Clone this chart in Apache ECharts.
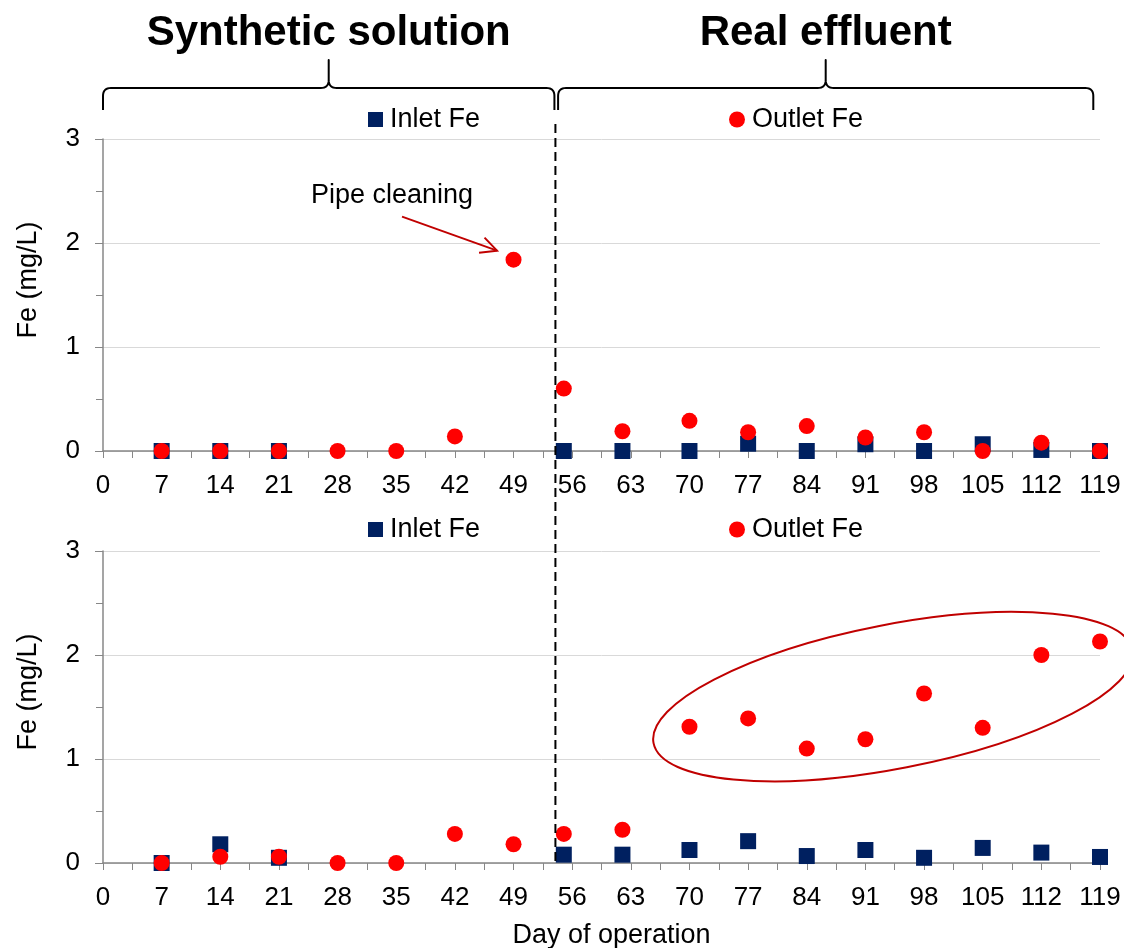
<!DOCTYPE html>
<html>
<head>
<meta charset="utf-8">
<title>Fe concentration</title>
<script src="https://cdn.jsdelivr.net/npm/echarts@6/dist/echarts.min.js"></script>
<style>
  html, body { margin: 0; padding: 0; background: #ffffff; }
  #chart { width: 1124px; height: 948px; }
</style>
</head>
<body>
<div id="chart"></div>
<script>
// Sampling days (day of operation)
const inletDays  = [7, 14, 21, 55, 62, 70, 77, 84, 91, 98, 105, 112, 119];
const outletDays = [7, 14, 21, 28, 35, 42, 49, 55, 62, 70, 77, 84, 91, 98, 105, 112, 119];

// Upper panel, Fe (mg/L)
const upperInletFe  = [0, 0, 0, 0, 0, 0, 0.07, 0, 0.065, 0, 0.065, 0.01, 0];
const upperOutletFe = [0, 0, 0, 0, 0, 0.14, 1.84, 0.60, 0.19, 0.29, 0.18, 0.24, 0.13, 0.18, 0, 0.08, 0];

// Lower panel, Fe (mg/L)
const lowerInletFe  = [0, 0.18, 0.05, 0.08, 0.08, 0.125, 0.21, 0.067, 0.125, 0.05, 0.145, 0.10, 0.058];
const lowerOutletFe = [0, 0.06, 0.06, 0, 0, 0.28, 0.18, 0.28, 0.32, 1.31, 1.39, 1.10, 1.19, 1.63, 1.30, 2.00, 2.13];

// Axis ranges and tick steps
const dayRange = [0, 119];
const dayStep = 7;
const feRange = [0, 3];
const feStep = 1;

// Feed change-over and phase labels
const switchDay = 54;
const phaseNames = ['Synthetic solution', 'Real effluent'];
const phaseSpans = [[0, 54], [54.2, 118.2]];
const seriesNames = ['Inlet Fe', 'Outlet Fe'];
const pipeNote = 'Pipe cleaning';

const FONT = '"Liberation Sans", Arial, Helvetica, sans-serif';
const NAVY = '#002060';
const RED = '#FF0000';
const DARKRED = '#C00000';
const AXIS_GREY = '#878787';

const pairs = (xs, ys) => xs.map((x, i) => [x, ys[i]]);

function xAxisCfg(gridIndex, withName) {
  const cfg = {
    type: 'value', gridIndex,
    min: dayRange[0], max: dayRange[1], interval: dayStep,
    axisLine: { show: true, onZero: false, lineStyle: { color: AXIS_GREY, width: 1.5 } },
    axisTick: { show: true, length: 7, lineStyle: { color: AXIS_GREY, width: 1 } },
    minorTick: { show: true, splitNumber: 2, length: 7, lineStyle: { color: AXIS_GREY, width: 1 } },
    splitLine: { show: false },
    minorSplitLine: { show: false },
    axisLabel: { margin: 22, fontSize: 26, color: '#000', fontFamily: FONT }
  };
  if (withName) {
    Object.assign(cfg, {
      name: 'Day of operation', nameLocation: 'middle', nameGap: 59,
      nameTextStyle: { fontSize: 27, color: '#000', fontFamily: FONT, padding: [0, 0, 0, 20] }
    });
  }
  return cfg;
}

function yAxisCfg(gridIndex) {
  return {
    type: 'value', gridIndex,
    min: feRange[0], max: feRange[1], interval: feStep,
    name: 'Fe (mg/L)', nameLocation: 'middle', nameGap: 61,
    nameTextStyle: { fontSize: 27, color: '#000', fontFamily: FONT, padding: [0, 0, 0, 30] },
    axisLine: { show: true, lineStyle: { color: AXIS_GREY, width: 1.5 } },
    axisTick: { show: true, length: 8, lineStyle: { color: AXIS_GREY, width: 1 } },
    minorTick: { show: true, splitNumber: 2, length: 7, lineStyle: { color: AXIS_GREY, width: 1 } },
    splitLine: { show: true, lineStyle: { color: '#D9D9D9', width: 1 } },
    minorSplitLine: { show: false },
    axisLabel: { margin: 23, fontSize: 26, color: '#000', fontFamily: FONT }
  };
}

function legendCfg(name, icon, left, top, size) {
  return {
    left, top, padding: 0, selectedMode: false,
    itemWidth: size, itemHeight: size, itemGap: 0,
    data: [{ name, icon }],
    textStyle: { fontSize: 27, color: '#000', fontFamily: FONT, padding: [0, 0, 0, 2] }
  };
}

function scatter(name, gridIndex, data, symbol, color, z) {
  return {
    name, type: 'scatter', xAxisIndex: gridIndex, yAxisIndex: gridIndex,
    data, symbol, symbolSize: 16, clip: false, z,
    itemStyle: { color, opacity: 1 },
    emphasis: { disabled: true }
  };
}

const chart = echarts.init(document.getElementById('chart'), null, { renderer: 'canvas' });

chart.setOption({
  animation: false,
  backgroundColor: '#ffffff',
  textStyle: { fontFamily: FONT },
  grid: [
    { left: 103, right: 24, top: 139, height: 312, outerBoundsMode: 'none' },
    { left: 103, right: 24, top: 551, height: 312, outerBoundsMode: 'none' }
  ],
  xAxis: [xAxisCfg(0, false), xAxisCfg(1, true)],
  yAxis: [yAxisCfg(0), yAxisCfg(1)],
  legend: [
    legendCfg(seriesNames[0], 'rect', 368, 106, 15),
    legendCfg(seriesNames[1], 'circle', 729, 106, 16),
    legendCfg(seriesNames[0], 'rect', 368, 516, 15),
    legendCfg(seriesNames[1], 'circle', 729, 516, 16)
  ],
  series: [
    scatter(seriesNames[0], 0, pairs(inletDays, upperInletFe), 'rect', NAVY, 3),
    scatter(seriesNames[1], 0, pairs(outletDays, upperOutletFe), 'circle', RED, 4),
    scatter(seriesNames[0], 1, pairs(inletDays, lowerInletFe), 'rect', NAVY, 3),
    scatter(seriesNames[1], 1, pairs(outletDays, lowerOutletFe), 'circle', RED, 4)
  ]
});

// ---- annotations placed from axis coordinates ----
const toPx = (grid, x, y) => chart.convertToPixel({ gridIndex: grid }, [x, y]);

// Curly brace opening downward with a centre cusp
function bracePoints(x0, x1, yLine, yEnd, yTip, r) {
  const xm = (x0 + x1) / 2;
  const pts = [];
  const quad = (p0, c, p1, n) => {
    for (let i = 1; i <= n; i++) {
      const t = i / n, u = 1 - t;
      pts.push([u * u * p0[0] + 2 * u * t * c[0] + t * t * p1[0],
                u * u * p0[1] + 2 * u * t * c[1] + t * t * p1[1]]);
    }
  };
  pts.push([x0, yEnd]);
  pts.push([x0, yLine + r]);
  quad([x0, yLine + r], [x0, yLine], [x0 + r, yLine], 8);
  pts.push([xm - r, yLine]);
  quad([xm - r, yLine], [xm, yLine], [xm, yLine - r], 8);
  pts.push([xm, yTip]);
  pts.push([xm, yLine - r]);
  quad([xm, yLine - r], [xm, yLine], [xm + r, yLine], 8);
  pts.push([x1 - r, yLine]);
  quad([x1 - r, yLine], [x1, yLine], [x1, yLine + r], 8);
  pts.push([x1, yEnd]);
  return { pts, xm };
}

const graphics = [];

phaseSpans.forEach((span, i) => {
  const xa = toPx(0, span[0], 0)[0];
  const xb = toPx(0, span[1], 0)[0];
  const b = bracePoints(xa + (i === 0 ? 0 : 1), xb - (i === 0 ? 1 : 0), 88, 110, 60, 8);
  graphics.push({
    type: 'polyline', silent: true, z: 10,
    shape: { points: b.pts },
    style: { stroke: '#000', lineWidth: 2, fill: null, lineJoin: 'round' }
  });
  graphics.push({
    type: 'text', silent: true, z: 10,
    style: {
      text: phaseNames[i], x: b.xm, y: 33, align: 'center', verticalAlign: 'middle',
      font: 'bold 42px ' + FONT, fill: '#000'
    }
  });
});

// Change-over line across both panels
const topSwitch = toPx(0, switchDay, feRange[1]);
const botSwitch = toPx(1, switchDay, feRange[0]);
graphics.push({
  type: 'line', silent: true, z: 9,
  shape: { x1: topSwitch[0], y1: 124, x2: botSwitch[0], y2: botSwitch[1] },
  style: { stroke: '#000', lineWidth: 2, lineDash: [9, 5] }
});

// "Pipe cleaning" note pointing at the day-49 outlet value
const spike = toPx(0, 49, upperOutletFe[6]);
const tip = [spike[0] - 16.5, spike[1] - 9];
const tail = [tip[0] - 95, tip[1] - 34];
graphics.push({
  type: 'line', silent: true, z: 10,
  shape: { x1: tail[0], y1: tail[1], x2: tip[0], y2: tip[1] },
  style: { stroke: DARKRED, lineWidth: 2 }
});
graphics.push({
  type: 'polyline', silent: true, z: 10,
  shape: { points: [[tip[0] - 18, tip[1] + 2], tip, [tip[0] - 12.5, tip[1] - 13]] },
  style: { stroke: DARKRED, lineWidth: 2, fill: null }
});
graphics.push({
  type: 'text', silent: true, z: 10,
  style: {
    text: pipeNote, x: tail[0] - 10, y: tail[1] - 21, align: 'center', verticalAlign: 'middle',
    font: '27px ' + FONT, fill: '#000'
  }
});

// Ellipse around the rising outlet values in the lower panel
const ring = toPx(1, 94.3, 1.6);
graphics.push({
  type: 'ellipse', silent: true, z: 10,
  x: ring[0], y: ring[1], rotation: 11 * Math.PI / 180,
  shape: { cx: 0, cy: 0, rx: 244, ry: 72 },
  style: { stroke: DARKRED, lineWidth: 2, fill: null }
});

chart.setOption({ graphic: { elements: graphics } });
</script>
</body>
</html>
